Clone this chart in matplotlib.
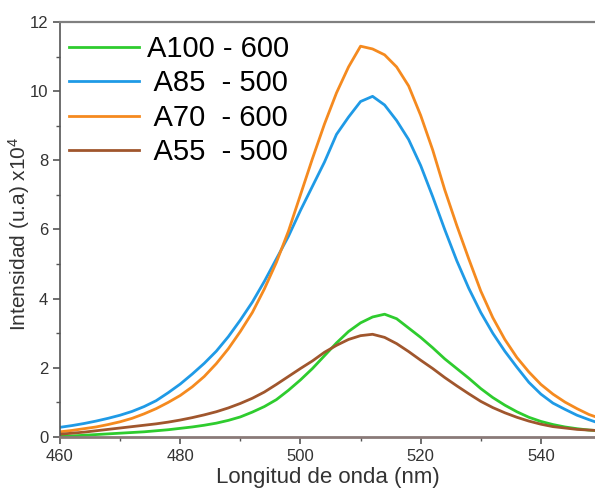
import matplotlib
matplotlib.use("Agg")
import matplotlib.pyplot as plt
from matplotlib.ticker import MultipleLocator

plt.rcParams['font.family'] = ['Liberation Sans', 'DejaVu Sans']
plt.rcParams['mathtext.fontset'] = 'custom'
plt.rcParams['mathtext.rm'] = 'Liberation Sans'
plt.rcParams['mathtext.it'] = 'Liberation Sans'

# wavelength grid (nm)
wl = [460, 462, 464, 466, 468, 470, 472, 474, 476, 478, 480, 482, 484, 486, 488,
      490, 492, 494, 496, 498, 500, 502, 504, 506, 508, 510, 512, 514, 516, 518,
      520, 522, 524, 526, 528, 530, 532, 534, 536, 538, 540, 542, 544, 546, 548, 549]

# intensities (x10^4 a.u.)
a100 = [0.02, 0.03, 0.05, 0.07, 0.09, 0.11, 0.13, 0.15, 0.18, 0.21, 0.25, 0.29, 0.34, 0.40, 0.48,
        0.58, 0.72, 0.88, 1.08, 1.35, 1.65, 1.98, 2.35, 2.72, 3.05, 3.30, 3.47, 3.55, 3.42, 3.15,
        2.88, 2.58, 2.26, 1.98, 1.70, 1.40, 1.14, 0.92, 0.73, 0.57, 0.45, 0.36, 0.29, 0.24, 0.20, 0.19]
a85 = [0.28, 0.33, 0.39, 0.46, 0.54, 0.63, 0.74, 0.88, 1.05, 1.28, 1.53, 1.82, 2.13, 2.48, 2.90,
       3.38, 3.90, 4.50, 5.15, 5.80, 6.55, 7.25, 7.95, 8.75, 9.25, 9.70, 9.85, 9.60, 9.15, 8.60,
       7.85, 6.95, 6.00, 5.10, 4.30, 3.60, 3.00, 2.48, 2.02, 1.58, 1.24, 0.98, 0.80, 0.63, 0.50, 0.44]
a70 = [0.15, 0.19, 0.24, 0.29, 0.36, 0.44, 0.54, 0.67, 0.82, 1.00, 1.20, 1.45, 1.75, 2.12, 2.55,
       3.05, 3.60, 4.28, 5.05, 5.95, 7.00, 8.05, 9.05, 9.95, 10.70, 11.30, 11.22, 11.05, 10.70, 10.15,
       9.30, 8.30, 7.15, 6.12, 5.15, 4.22, 3.45, 2.82, 2.30, 1.88, 1.52, 1.24, 1.01, 0.82, 0.65, 0.59]
a55 = [0.08, 0.11, 0.14, 0.18, 0.22, 0.26, 0.30, 0.34, 0.38, 0.43, 0.49, 0.56, 0.64, 0.73, 0.84,
       0.97, 1.12, 1.30, 1.52, 1.75, 1.98, 2.20, 2.45, 2.65, 2.82, 2.93, 2.97, 2.88, 2.70, 2.47,
       2.22, 1.98, 1.72, 1.48, 1.25, 1.03, 0.85, 0.70, 0.57, 0.46, 0.37, 0.30, 0.26, 0.22, 0.20, 0.19]

labels = ['A100 - 600', ' A85  - 500', ' A70  - 600', ' A55  - 500']
colors = ['#2ecc2e', '#1f9ae6', '#f58a1f', '#a0562d']

fig = plt.figure(figsize=(5.95, 4.94), dpi=100)
ax = fig.add_axes([0.1008, 0.1154, 0.8992, 0.8401])

for y, lab, c in zip([a100, a85, a70, a55], labels, colors):
    ax.plot(wl, y, color=c, lw=2.0, label=lab)

ax.set_xlim(460, 549)
ax.set_ylim(0, 12)
ax.xaxis.set_major_locator(MultipleLocator(20))
ax.xaxis.set_minor_locator(MultipleLocator(10))
ax.yaxis.set_major_locator(MultipleLocator(2))
ax.yaxis.set_minor_locator(MultipleLocator(1))

ax.spines['right'].set_visible(False)
ax.spines['top'].set_color('#808080')
ax.spines['top'].set_linewidth(1.6)
ax.spines['left'].set_color('#555555')
ax.spines['left'].set_linewidth(1.2)
ax.spines['bottom'].set_color('#8a7a78')
ax.spines['bottom'].set_linewidth(2.0)

ax.tick_params(which='major', direction='out', length=5, width=1.2, color='#555555',
               labelsize=12, labelcolor='#333333')
ax.tick_params(which='minor', direction='out', length=3, width=1.0, color='#555555')

ax.set_xlabel('Longitud de onda (nm)', fontsize=16, color='#333333', labelpad=2)
ax.set_ylabel(r'Intensidad (u.a) x10$^4$', fontsize=15, color='#333333')
ax.yaxis.set_label_coords(-0.052, 0.49)

ax.legend(loc='upper left', bbox_to_anchor=(0.0, 0.99), frameon=False, fontsize=21,
          handlelength=2.4, handletextpad=0.3, labelspacing=0.22, borderaxespad=0.0,
          borderpad=0.3)

fig.savefig('out.png', dpi=100)
